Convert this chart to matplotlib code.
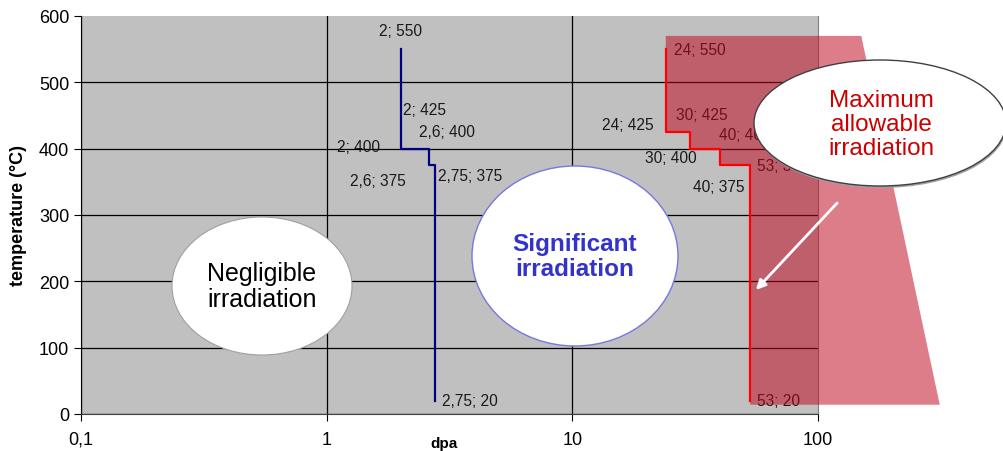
import matplotlib.pyplot as plt
import matplotlib.patches as mpatches
import numpy as np

plt.rcParams['font.family'] = ['Liberation Sans', 'DejaVu Sans']

# step curves (dpa; temperature)
blue_dpa = [2, 2, 2, 2.6, 2.6, 2.75, 2.75]
blue_temp = [550, 425, 400, 400, 375, 375, 20]
red_dpa = [24, 24, 30, 30, 40, 40, 53, 53]
red_temp = [550, 425, 425, 400, 400, 375, 375, 20]

# data labels: (text, x, y, dx px, dy px, ha)
blue_labels = [('2; 550', 2, 550, 0, 19, 'center'),
               ('2; 425', 2, 425, 2, 23, 'left'),
               ('2,6; 400', 2.6, 400, 18, 17, 'center'),
               ('2; 400', 2, 400, -21, 2, 'right'),
               ('2,6; 375', 2.6, 375, -23, -15, 'right'),
               ('2,75; 375', 2.75, 375, 3, -10, 'left'),
               ('2,75; 20', 2.75, 20, 7, 0, 'left')]
red_labels = [('24; 550', 24, 550, 8, 0, 'left'),
              ('30; 425', 30, 425, 12, 18, 'center'),
              ('24; 425', 24, 425, -12, 8, 'right'),
              ('40; 400', 40, 400, -1, 14, 'left'),
              ('30; 400', 30, 400, 7, -9, 'right'),
              ('40; 375', 40, 375, 24, -21, 'right'),
              ('53; 375', 53, 375, 7, 0, 'left'),
              ('53; 20', 53, 20, 7, 0, 'left')]

# shaded zone "maximum allowable irradiation"
zone_dpa = [24, 150, 313, 53, 53, 40, 40, 30, 30, 24]
zone_temp = [570, 570, 14, 14, 375, 375, 400, 400, 425, 425]

fig = plt.figure(figsize=(10.04, 4.52), dpi=100)
ax = fig.add_axes([81/1004, 1-415/452, (818-81)/1004, (415-17)/452])
ax.set_facecolor('#c0c0c0')
ax.set_xscale('log')
ax.set_xlim(0.1, 100)
ax.set_ylim(0, 600)

ax.set_xticks([0.1, 1, 10, 100])
ax.set_xticklabels(['0,1', '1', '10', '100'])
ax.minorticks_off()
ax.set_yticks(range(0, 601, 100))
ax.tick_params(labelsize=13, direction='out', length=5, colors='black')
ax.tick_params(axis='x', pad=7)
ax.grid(True, color='black', linewidth=0.9)
ax.set_axisbelow(True)
ax.yaxis.get_gridlines()[-1].set_visible(False)
ax.xaxis.get_gridlines()[-1].set_visible(False)
ax.spines['top'].set_visible(False)
ax.spines['right'].set_color('#808080')
ax.spines['bottom'].set_color('#404040')

fig.text(444/1004, 1-444/452, 'dpa', fontweight='bold', fontsize=11, ha='center', va='center')
ax.set_ylabel('temperature (°C)', fontweight='bold', fontsize=13)
ax.yaxis.set_label_coords(-54/737, 0.5)

ax.plot(blue_dpa, blue_temp, color='#000080', linewidth=1.6, zorder=5)
ax.plot(red_dpa, red_temp, color='#ff0000', linewidth=1.6, zorder=5)

for txt, x, y, dx, dy, ha in blue_labels + red_labels:
    ax.annotate(txt, (x, y), xytext=(dx * 0.72, dy * 0.72), textcoords='offset points',
                ha=ha, va='center', fontsize=11.2, color='#1a1a1a', zorder=3)

ax.fill(zone_dpa, zone_temp, color=(192/255, 7/255, 32/255), alpha=0.52,
        linewidth=0, clip_on=False, zorder=4)

# ellipses in figure pixel coords
def ellipse(cx, cy, w, h, ec, lw):
    e = mpatches.Ellipse((cx/1004, 1-cy/452), w/1004, h/452, transform=fig.transFigure,
                         facecolor='white', edgecolor=ec, linewidth=lw, zorder=6)
    fig.patches.append(e)

ellipse(262, 287, 180, 138, '#a0a0a0', 0.8)
fig.text(262/1004, 1-287/452, 'Negligible\nirradiation', ha='center', va='center',
         fontsize=18, color='black', zorder=7, linespacing=1.15)

ellipse(575, 257, 206, 180, '#7777dd', 1.0)
fig.text(575/1004, 1-257/452, 'Significant\nirradiation', ha='center', va='center',
         fontsize=17.5, fontweight='bold', color='#3333cc', zorder=7, linespacing=1.15)

sh = mpatches.Ellipse((881/1004, 1-126/452), 252/1004, 126/452, transform=fig.transFigure,
                      facecolor='#a0a0a0', edgecolor='none', zorder=5.9)
fig.patches.append(sh)
ellipse(880, 124, 252, 126, '#404040', 1.0)
fig.text(881/1004, 1-125/452, 'Maximum\nallowable\nirradiation', ha='center', va='center',
         fontsize=17.5, color='#cc0000', zorder=7, linespacing=1.1)

fig.patches.append(mpatches.FancyArrowPatch((839/1004, 1-202/452), (754/1004, 1-293/452),
                                            transform=fig.transFigure, arrowstyle='-|>',
                                            mutation_scale=14, color='white', linewidth=2,
                                            zorder=6))

fig.savefig('out.png', dpi=100)
